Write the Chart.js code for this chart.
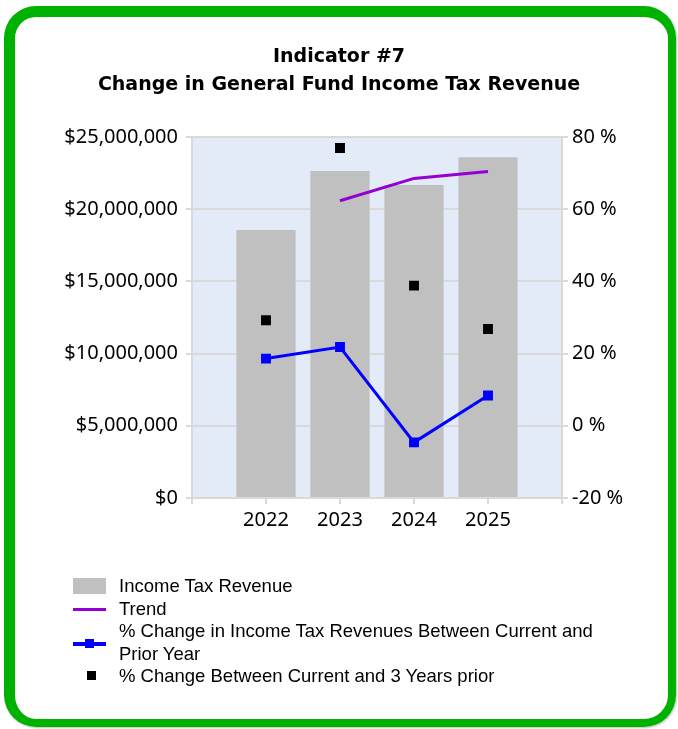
<!DOCTYPE html>
<html>
<head>
<meta charset="utf-8">
<script src="https://cdn.jsdelivr.net/npm/chart.js@4"></script>
<style>
    html, body { margin: 0; padding: 0; background: #fff; }
    .frame {
        position: absolute;
        left: 4px; top: 6px;
        width: 672px; height: 721px;
        box-sizing: border-box;
        border: solid #00B200;
        border-width: 11px 8px 8px 11px;
        border-radius: 32px;
        box-shadow: 1px 1px 2px rgba(0, 0, 0, 0.25);
    }
    .chart-wrap { position: absolute; left: 0; top: 0; width: 678px; height: 729px; }
    .legend {
        position: absolute;
        left: 73px; top: 575px;
        font-family: "Liberation Sans", Arial, sans-serif;
        font-size: 18.5px;
        line-height: 22.5px;
        color: #000;
    }
    .legend-row { display: flex; align-items: center; }
    .legend-marker { width: 46px; flex: none; position: relative; height: 22px; }
    .swatch { position: absolute; left: 0; top: 3px; width: 33px; height: 16px; background: #C0C0C0; }
    .line { position: absolute; left: 0; top: 10px; width: 33px; height: 3px; }
    .sq { position: absolute; width: 9px; height: 9px; top: 6px; }
</style>
</head>
<body>
<div class="frame"></div>
<div class="chart-wrap"><canvas id="taxChart"></canvas></div>
<div class="legend">
    <div class="legend-row"><div class="legend-marker"><div class="swatch"></div></div><span>Income Tax Revenue</span></div>
    <div class="legend-row"><div class="legend-marker"><div class="line" style="background:#9400D3"></div></div><span>Trend</span></div>
    <div class="legend-row"><div class="legend-marker"><div class="line" style="background:#0000FF;height:4px"></div><div class="sq" style="left:12px;background:#0000FF;top:7px"></div></div><span>% Change in Income Tax Revenues Between Current and<br>Prior Year</span></div>
    <div class="legend-row"><div class="legend-marker"><div class="sq" style="left:14px;background:#000"></div></div><span>% Change Between Current and 3 Years prior</span></div>
</div>
<script>
const years = ['2022', '2023', '2024', '2025'];
const revenue = [18550000, 22640000, 21670000, 23590000];
const trend = [null, 62.3, 68.5, 70.4];
const pctPriorYear = [18.6, 21.8, -4.6, 8.4];
const pctThreeYears = [29.2, 76.9, 38.8, 26.8];
const revenueTicks = [0, 25000000, 5000000];   // min, max, step
const pctTicks = [-20, 80, 20];                 // min, max, step

// empty slot on each side so the years sit one step in from the axes
const labels = ['', ...years, ''];
const pad = arr => [null, ...arr, null];

const tickFont = { family: '"Noto Sans", sans-serif', size: 20 };
const gridGray = '#D9D9D9';

// light blue plot background
const plotBg = {
    id: 'plotBg',
    beforeDraw(chart) {
        const { ctx, chartArea: a } = chart;
        ctx.save();
        ctx.fillStyle = '#E4EBF8';
        ctx.fillRect(a.left, a.top, a.right - a.left, a.bottom - a.top);
        ctx.restore();
    }
};

new Chart(document.getElementById('taxChart'), {
    type: 'bar',
    data: {
        labels: labels,
        datasets: [
            {
                type: 'line',
                label: '% Change Between Current and 3 Years prior',
                data: pad(pctThreeYears),
                yAxisID: 'y2',
                showLine: false,
                pointStyle: 'rect',
                pointRadius: 7,
                pointBackgroundColor: '#000',
                pointBorderWidth: 0,
                borderColor: '#000',
                order: 1
            },
            {
                type: 'line',
                label: '% Change in Income Tax Revenues Between Current and Prior Year',
                data: pad(pctPriorYear),
                yAxisID: 'y2',
                borderColor: '#0000FF',
                borderWidth: 3,
                tension: 0,
                pointStyle: 'rect',
                pointRadius: 7,
                pointBackgroundColor: '#0000FF',
                pointBorderWidth: 0,
                order: 2
            },
            {
                type: 'line',
                label: 'Trend',
                data: pad(trend),
                yAxisID: 'y2',
                borderColor: '#9400D3',
                borderWidth: 3,
                tension: 0,
                pointRadius: 0,
                order: 3
            },
            {
                label: 'Income Tax Revenue',
                data: pad(revenue),
                yAxisID: 'y',
                backgroundColor: '#C0C0C0',
                barPercentage: 0.8,
                categoryPercentage: 1,
                order: 4
            }
        ]
    },
    options: {
        responsive: true,
        maintainAspectRatio: false,
        animation: false,
        layout: { padding: { top: 43, left: 0, right: 0, bottom: 0 } },
        plugins: {
            legend: { display: false }, // HTML legend below
            tooltip: { enabled: false },
            title: {
                display: true,
                text: ['Indicator #7', 'Change in General Fund Income Tax Revenue'],
                color: '#000',
                font: { family: '"DejaVu Sans", sans-serif', size: 19, weight: 'bold', lineHeight: 1.47 },
                padding: { top: 0, bottom: 38 }
            }
        },
        scales: {
            x: {
                type: 'category',
                offset: false,
                grid: { offset: false, drawOnChartArea: false, color: gridGray, lineWidth: 2, tickLength: 6 },
                border: { color: gridGray, width: 2 },
                ticks: { color: '#000', font: tickFont, padding: 4, autoSkip: false, maxRotation: 0 },
                afterFit: s => { s.height = 231; }
            },
            y: {
                position: 'left',
                min: revenueTicks[0],
                max: revenueTicks[1],
                ticks: {
                    stepSize: revenueTicks[2],
                    color: '#000',
                    font: tickFont,
                    padding: 8,
                    callback: v => '$' + v.toLocaleString('en-US')
                },
                grid: { color: gridGray, lineWidth: 2, tickLength: 6 },
                border: { color: gridGray, width: 2 },
                afterFit: s => { s.width = 192; }
            },
            y2: {
                position: 'right',
                min: pctTicks[0],
                max: pctTicks[1],
                ticks: {
                    stepSize: pctTicks[2],
                    color: '#000',
                    font: tickFont,
                    padding: 4,
                    callback: v => v + ' %'
                },
                grid: { drawOnChartArea: false, color: gridGray, lineWidth: 2, tickLength: 6 },
                border: { color: gridGray, width: 2 },
                afterFit: s => { s.width = 116; }
            }
        }
    },
    plugins: [plotBg]
});
</script>
</body>
</html>
